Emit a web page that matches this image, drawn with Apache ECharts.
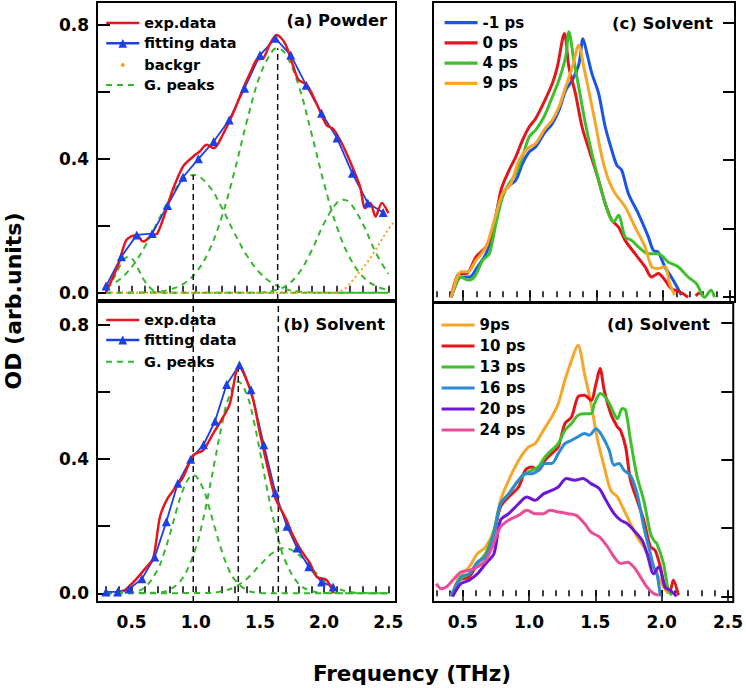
<!DOCTYPE html>
<html><head><meta charset="utf-8">
<script src="https://cdn.jsdelivr.net/npm/echarts@6/dist/echarts.min.js"></script>
<style>html,body{margin:0;padding:0;background:#fff}#c{width:746px;height:688px}</style>
</head><body><div id="c"></div>
<script>
// ---------- tick labels ----------
const xTickLabels = ['0.5', '1.0', '1.5', '2.0', '2.5'];
const yTickLabels = ['0.0', '0.4', '0.8'];
const yTickValues = [0, 0.2, 0.4, 0.6, 0.8];

// ---------- panel (a) Powder ----------
const expA = [[0.30,0.0],[0.40,0.089],[0.46,0.158],[0.54,0.173],[0.59,0.153],[0.66,0.173],[0.70,0.177],[0.77,0.248],[0.82,0.307],[0.90,0.377],[0.98,0.407],[1.03,0.422],[1.085,0.442],[1.14,0.432],[1.21,0.472],[1.29,0.536],[1.37,0.611],[1.435,0.666],[1.475,0.696],[1.525,0.70],[1.58,0.745],[1.63,0.770],[1.695,0.745],[1.76,0.676],[1.80,0.636],[1.865,0.621],[1.94,0.566],[2.02,0.50],[2.07,0.49],[2.15,0.437],[2.23,0.367],[2.28,0.317],[2.32,0.253],[2.36,0.268],[2.40,0.228],[2.45,0.268],[2.50,0.238]];
const fitA = [[0.30,0.02],[0.42,0.108],[0.54,0.173],[0.66,0.177],[0.78,0.261],[0.90,0.345],[1.02,0.40],[1.14,0.452],[1.26,0.516],[1.38,0.611],[1.50,0.71],[1.62,0.76],[1.74,0.71],[1.86,0.62],[1.98,0.536],[2.10,0.462],[2.22,0.357],[2.34,0.268],[2.46,0.24]];
const bgA = [[0.30,0],[2.10,0],[2.15,0.008],[2.20,0.027],[2.25,0.05],[2.30,0.073],[2.35,0.098],[2.40,0.128],[2.45,0.16],[2.50,0.19],[2.55,0.215]];
const gA1 = [[0.30,0.013],[0.35,0.037],[0.40,0.074],[0.44,0.100],[0.474,0.108],[0.51,0.099],[0.55,0.072],[0.60,0.036],[0.65,0.013],[0.70,0.003],[0.80,0],[1.5,0],[2.5,0]];
const gA2 = [[0.30,0.017],[0.40,0.038],[0.50,0.077],[0.60,0.136],[0.70,0.210],[0.80,0.284],[0.90,0.337],[0.98,0.352],[1.10,0.320],[1.20,0.256],[1.30,0.179],[1.40,0.110],[1.50,0.059],[1.60,0.028],[1.70,0.011],[1.80,0.004],[1.90,0.001],[2.00,0],[2.50,0]];
const gA3 = [[0.30,0],[0.60,0.001],[0.70,0.003],[0.80,0.010],[0.90,0.026],[1.00,0.060],[1.10,0.123],[1.20,0.224],[1.30,0.361],[1.40,0.515],[1.50,0.649],[1.60,0.724],[1.638,0.730],[1.70,0.713],[1.80,0.621],[1.90,0.478],[2.00,0.326],[2.10,0.196],[2.20,0.105],[2.30,0.049],[2.40,0.021],[2.50,0.008]];
const gA4 = [[0.30,0],[1.50,0],[1.60,0.006],[1.70,0.020],[1.80,0.057],[1.90,0.124],[2.00,0.208],[2.10,0.269],[2.149,0.278],[2.20,0.269],[2.30,0.207],[2.40,0.122],[2.50,0.056]];
const peakPosA = [0.98, 1.638];
const peakTopA = [0.352, 0.73];

// ---------- panel (b) Solvent ----------
const expB = [[0.435,0.004],[0.54,0.044],[0.617,0.079],[0.668,0.104],[0.721,0.228],[0.773,0.278],[0.837,0.313],[0.902,0.347],[0.98,0.412],[1.058,0.427],[1.136,0.477],[1.214,0.526],[1.266,0.566],[1.318,0.666],[1.344,0.676],[1.396,0.636],[1.448,0.576],[1.50,0.477],[1.565,0.367],[1.617,0.287],[1.656,0.255],[1.708,0.218],[1.75,0.178],[1.812,0.133],[1.89,0.089],[1.942,0.049],[2.02,0.039],[2.071,0.0]];
const fitB = [[0.30,0.004],[0.39,0.004],[0.48,0.013],[0.58,0.043],[0.68,0.108],[0.77,0.213],[0.86,0.328],[0.96,0.40],[1.06,0.443],[1.15,0.513],[1.24,0.623],[1.34,0.681],[1.43,0.607],[1.53,0.443],[1.62,0.30],[1.71,0.20],[1.79,0.135],[1.88,0.079],[1.98,0.034],[2.07,0.019]];
const gB1 = [[0.30,0],[0.50,0.003],[0.60,0.017],[0.70,0.069],[0.75,0.117],[0.80,0.179],[0.85,0.248],[0.90,0.308],[0.95,0.346],[0.98,0.352],[1.05,0.318],[1.10,0.261],[1.15,0.193],[1.20,0.129],[1.25,0.077],[1.30,0.042],[1.40,0.009],[1.50,0.001],[1.60,0],[2.50,0]];
const gB2 = [[0.30,0],[0.70,0.002],[0.80,0.012],[0.90,0.047],[1.00,0.136],[1.05,0.209],[1.10,0.299],[1.15,0.399],[1.20,0.496],[1.25,0.576],[1.331,0.631],[1.40,0.590],[1.45,0.517],[1.50,0.423],[1.55,0.322],[1.60,0.229],[1.65,0.152],[1.70,0.094],[1.80,0.029],[1.90,0.007],[2.00,0.001],[2.50,0]];
const gB3 = [[0.30,0],[1.10,0.001],[1.20,0.006],[1.30,0.018],[1.40,0.044],[1.50,0.084],[1.60,0.121],[1.69,0.135],[1.80,0.115],[1.90,0.075],[2.00,0.038],[2.10,0.015],[2.20,0.004],[2.30,0.001],[2.50,0]];
const peakPosB = [0.98, 1.331, 1.643];
const peakTopB = [0.87, 0.67, 0.87];

// ---------- panel (c) Solvent ----------
const cM1 = [[0.412,0],[0.486,0.059],[0.548,0.059],[0.61,0.089],[0.673,0.127],[0.722,0.186],[0.772,0.283],[0.834,0.322],[0.896,0.342],[0.946,0.39],[0.996,0.424],[1.045,0.439],[1.108,0.478],[1.17,0.507],[1.22,0.546],[1.27,0.604],[1.32,0.634],[1.37,0.682],[1.40,0.755],[1.43,0.711],[1.467,0.653],[1.517,0.595],[1.567,0.497],[1.616,0.429],[1.654,0.385],[1.69,0.371],[1.74,0.303],[1.815,0.244],[1.89,0.176],[1.927,0.137],[1.964,0.132],[2.014,0.089],[2.076,0.05],[2.138,0.006]];
const c0 = [[0.412,0],[0.474,0.069],[0.524,0.069],[0.598,0.118],[0.673,0.147],[0.735,0.205],[0.784,0.312],[0.846,0.371],[0.896,0.41],[0.946,0.458],[0.996,0.497],[1.045,0.522],[1.108,0.57],[1.17,0.624],[1.207,0.672],[1.261,0.77],[1.294,0.672],[1.343,0.595],[1.393,0.497],[1.455,0.419],[1.517,0.342],[1.567,0.273],[1.616,0.225],[1.666,0.205],[1.716,0.166],[1.79,0.127],[1.865,0.089],[1.915,0.059],[1.964,0.069],[2.014,0.05],[2.063,0.025],[2.126,0.016],[2.188,0],null,[2.245,0.004],[2.275,0.012],[2.30,0.004]];
const c4 = [[0.412,0],[0.486,0.059],[0.536,0.05],[0.586,0.059],[0.648,0.108],[0.698,0.127],[0.747,0.215],[0.797,0.293],[0.846,0.332],[0.896,0.361],[0.946,0.41],[0.996,0.468],[1.045,0.488],[1.108,0.527],[1.17,0.585],[1.22,0.634],[1.27,0.702],[1.294,0.775],[1.331,0.692],[1.368,0.614],[1.418,0.507],[1.467,0.419],[1.53,0.322],[1.592,0.244],[1.63,0.22],[1.666,0.239],[1.716,0.176],[1.765,0.166],[1.815,0.147],[1.89,0.127],[1.964,0.127],[2.039,0.103],[2.113,0.089],[2.188,0.059],[2.25,0.04],[2.312,0],[2.36,0.02],[2.386,0]];
const c9 = [[0.412,0],[0.486,0.074],[0.536,0.074],[0.598,0.108],[0.673,0.147],[0.735,0.225],[0.797,0.303],[0.859,0.332],[0.921,0.40],[0.983,0.434],[1.045,0.449],[1.108,0.488],[1.17,0.517],[1.22,0.556],[1.27,0.614],[1.32,0.672],[1.368,0.736],[1.406,0.672],[1.443,0.604],[1.493,0.507],[1.542,0.41],[1.592,0.342],[1.641,0.303],[1.716,0.264],[1.79,0.205],[1.865,0.147],[1.915,0.089],[1.964,0.084],[2.014,0.089],[2.05,0.04],[2.088,0.006]];

// ---------- panel (d) Solvent ----------
const d9 = [[0.412,0],[0.474,0.057],[0.548,0.086],[0.61,0.125],[0.673,0.145],[0.735,0.193],[0.784,0.281],[0.846,0.34],[0.921,0.398],[0.996,0.4375],[1.045,0.447],[1.108,0.486],[1.17,0.525],[1.22,0.564],[1.27,0.633],[1.32,0.691],[1.368,0.735],[1.418,0.652],[1.467,0.564],[1.517,0.457],[1.567,0.379],[1.616,0.31],[1.666,0.291],[1.716,0.252],[1.765,0.213],[1.815,0.174],[1.865,0.145],[1.915,0.105],[1.964,0.066],[2.014,0.027],[2.05,0.008]];
const d10 = [[0.42,0],[0.474,0.047],[0.548,0.057],[0.61,0.096],[0.673,0.125],[0.735,0.184],[0.784,0.262],[0.846,0.291],[0.921,0.32],[0.971,0.369],[1.02,0.379],[1.07,0.369],[1.12,0.398],[1.17,0.418],[1.22,0.4375],[1.27,0.506],[1.32,0.525],[1.368,0.584],[1.418,0.589],[1.467,0.574],[1.505,0.623],[1.535,0.667],[1.567,0.603],[1.616,0.535],[1.666,0.496],[1.69,0.486],[1.728,0.4375],[1.765,0.34],[1.815,0.281],[1.865,0.223],[1.915,0.145],[1.95,0.135],[1.99,0.086],[2.026,0.027],[2.063,0.018],[2.088,0.047],[2.126,0.003]];
const d13 = [[0.412,0],[0.486,0.052],[0.548,0.066],[0.61,0.096],[0.673,0.125],[0.735,0.193],[0.784,0.271],[0.846,0.30],[0.921,0.34],[0.971,0.359],[1.02,0.369],[1.07,0.379],[1.12,0.408],[1.17,0.428],[1.22,0.447],[1.27,0.486],[1.32,0.506],[1.368,0.53],[1.418,0.535],[1.467,0.535],[1.493,0.564],[1.537,0.594],[1.592,0.574],[1.641,0.535],[1.666,0.52],[1.703,0.55],[1.728,0.545],[1.765,0.457],[1.815,0.35],[1.865,0.281],[1.915,0.184],[1.94,0.164],[1.964,0.154],[2.014,0.096],[2.05,0.018],[2.076,0.003]];
const d16 = [[0.412,0],[0.486,0.057],[0.548,0.066],[0.61,0.10],[0.673,0.115],[0.735,0.184],[0.784,0.271],[0.846,0.30],[0.921,0.34],[0.971,0.359],[1.02,0.359],[1.07,0.369],[1.12,0.389],[1.17,0.389],[1.22,0.418],[1.27,0.447],[1.32,0.457],[1.368,0.467],[1.418,0.477],[1.455,0.472],[1.505,0.491],[1.555,0.467],[1.604,0.428],[1.641,0.384],[1.678,0.389],[1.716,0.369],[1.765,0.354],[1.815,0.30],[1.865,0.203],[1.915,0.125],[1.94,0.086],[1.964,0.066],[1.99,0]];
const d20 = [[0.424,0],[0.486,0.037],[0.548,0.047],[0.61,0.066],[0.673,0.096],[0.735,0.125],[0.784,0.223],[0.846,0.242],[0.921,0.271],[0.983,0.291],[1.045,0.281],[1.108,0.30],[1.17,0.31],[1.22,0.32],[1.282,0.345],[1.343,0.34],[1.406,0.345],[1.467,0.33],[1.53,0.315],[1.58,0.281],[1.641,0.242],[1.69,0.223],[1.74,0.213],[1.79,0.193],[1.852,0.164],[1.89,0.125],[1.94,0.066],[1.977,0.086],[2.026,0.027],[2.063,0.018],[2.113,0]];
const d24 = [[0.30,0.037],[0.337,0.022],[0.375,0.027],[0.424,0.047],[0.486,0.071],[0.548,0.076],[0.61,0.086],[0.673,0.105],[0.722,0.145],[0.784,0.203],[0.846,0.223],[0.921,0.237],[0.983,0.252],[1.045,0.242],[1.108,0.242],[1.157,0.252],[1.22,0.247],[1.294,0.242],[1.356,0.237],[1.418,0.213],[1.467,0.188],[1.53,0.174],[1.592,0.145],[1.641,0.115],[1.69,0.096],[1.74,0.10],[1.79,0.086],[1.84,0.057],[1.89,0.027],[1.94,0.008],[1.977,0.003]];

// ---------- styling / layout ----------
const FONT = 'DejaVu Sans';
const COL = {red:'#e5161d', blue:'#1d3fe6', green:'#37b72c', orange:'#f4a423',
  cBlue:'#1a55e6', cRed:'#e3161c', cGreen:'#3dc02b', cOrange:'#f6a62a',
  dSky:'#2a8cd2', dPurple:'#6c17d4', dPink:'#ea4e98', black:'#111'};
const RANGE = {
  xL:[0.23, 2.56], xR:[0.275, 2.54],
  yA:[-0.0215, 0.8685], yB:[-0.026, 0.8687], yC:[-0.014, 0.862], yD:[-0.0167, 0.859]
};

const minorLeft = []; for (let i = 3; i <= 25; i++) minorLeft.push(i / 10);
const minorRight = minorLeft.slice();
const xMajor = xTickLabels.map(Number);
const yLabVals = yTickLabels.map(Number);
const labelStyle = {fontFamily: FONT, fontWeight: 'bold', fontSize: 17, color: '#000'};

function gridBox(left, top, width, height) {
  return {left, top, width, height, show: true, borderColor: '#000', borderWidth: 2, backgroundColor: 'transparent', containLabel: false};
}
function xAx(gi, range, ticks, len, labels) {
  return {
    type: 'value', gridIndex: gi, min: range[0], max: range[1], position: 'bottom',
    axisLine: {show: false}, splitLine: {show: false},
    axisTick: {show: true, inside: true, length: len, customValues: ticks, lineStyle: {color: '#000', width: 1.5}},
    axisLabel: labels ? Object.assign({show: true, customValues: xMajor, margin: 11,
      formatter: v => v.toFixed(1)}, labelStyle) : {show: false}
  };
}
function yAx(gi, range, pos, labels) {
  return {
    type: 'value', gridIndex: gi, min: range[0], max: range[1], position: pos,
    axisLine: {show: false}, splitLine: {show: false},
    axisTick: {show: true, inside: true, length: pos === 'left' ? 13 : 12, customValues: yTickValues, lineStyle: {color: '#000', width: 2}},
    axisLabel: labels ? Object.assign({show: true, customValues: yLabVals, margin: 8,
      formatter: v => v.toFixed(1)}, labelStyle) : {show: false}
  };
}
function ln(name, data, xi, yi, color, width, extra) {
  return Object.assign({
    name, type: 'line', xAxisIndex: xi, yAxisIndex: yi, data, symbol: 'none',
    lineStyle: {color, width}, itemStyle: {color}, smooth: 0.3, silent: true,
    clip: true, animation: false, connectNulls: false
  }, extra || {});
}
function peakSeries(name, data, xi, yi) {
  return ln(name, data, xi, yi, COL.green, 2, {smooth: 0.4, lineStyle: {color: COL.green, width: 2, type: [6, 5]}});
}
function vLines(pos, tops, yMin, xi, yi) {
  return pos.map((p, i) => ln('_v' + xi + '_' + i, [[p, yMin], [p, tops[i]]], xi, yi, COL.black, 1.5,
    {smooth: false, lineStyle: {color: COL.black, width: 1.5, type: [6, 4]}}));
}

const series = [];
[gA1, gA2, gA3, gA4].forEach(g => series.push(peakSeries('G. peaks', g, 0, 0)));
series.push(...vLines(peakPosA, peakTopA, RANGE.yA[0], 0, 0));
series.push(ln('backgr', bgA, 0, 0, COL.orange, 2, {smooth: false, symbol: 'circle', symbolSize: 4, showSymbol: false,
  lineStyle: {color: COL.orange, width: 2, type: [2, 3]}}));
series.push(ln('fitting data', fitA, 0, 0, COL.blue, 1.8, {smooth: false, symbol: 'triangle', symbolSize: 9, showSymbol: true}));
series.push(ln('exp.data', expA, 0, 0, COL.red, 2.5));

[gB1, gB2, gB3].forEach(g => series.push(peakSeries('G. peaks', g, 1, 1)));
series.push(...vLines(peakPosB, peakTopB, RANGE.yB[0], 1, 1));
series.push(ln('fitting data', fitB, 1, 1, COL.blue, 1.8, {smooth: false, symbol: 'triangle', symbolSize: 9, showSymbol: true}));
series.push(ln('exp.data', expB, 1, 1, COL.red, 2.5));

series.push(ln('-1 ps', cM1, 2, 2, COL.cBlue, 3));
series.push(ln('0 ps', c0, 2, 2, COL.cRed, 3));
series.push(ln('4 ps', c4, 2, 2, COL.cGreen, 3));
series.push(ln('9 ps', c9, 2, 2, COL.cOrange, 3));

series.push(ln('9ps', d9, 3, 3, COL.cOrange, 3));
series.push(ln('10 ps', d10, 3, 3, COL.cRed, 3));
series.push(ln('13 ps', d13, 3, 3, COL.cGreen, 3));
series.push(ln('16 ps', d16, 3, 3, COL.dSky, 3));
series.push(ln('20 ps', d20, 3, 3, COL.dPurple, 3));
series.push(ln('24 ps', d24, 3, 3, COL.dPink, 3));

function lg(data, left, top, fs, itemH, gap, lineW) {
  return {data, left, top, orient: 'vertical', padding: 0, itemGap: gap, itemWidth: 33, itemHeight: itemH,
    selectedMode: false, lineStyle: {width: lineW},
    textStyle: {fontFamily: FONT, fontWeight: 'bold', fontSize: fs, color: '#000', lineHeight: 16}};
}
const noSym = n => ({name: n, itemStyle: {opacity: 0}});
const legends = [
  lg([noSym('exp.data'), 'fitting data'], 105, 15, 14.5, 11, 4.3, 2.5),
  lg([{name: 'backgr', lineStyle: {opacity: 0}}], 105, 57, 14.5, 5, 4, 2.5),
  lg([noSym('G. peaks')], 105, 77, 14.5, 11, 4, 2),
  lg([noSym('exp.data'), 'fitting data'], 105, 312, 14.5, 11, 4, 2.5),
  lg([noSym('G. peaks')], 105, 353.7, 14.5, 11, 4, 2),
  lg(['-1 ps', '0 ps', '4 ps', '9 ps'].map(noSym), 443, 14.7, 15, 11, 4.2, 3.2),
  lg(['9ps', '10 ps', '13 ps', '16 ps', '20 ps', '24 ps'].map(noSym), 440, 317, 15, 11, 5, 3.2)
];

function txt(text, x, y, size, align, rot) {
  return {type: 'text', x, y, rotation: rot || 0, silent: true,
    style: {text, fill: '#000', font: 'bold ' + size + 'px "' + FONT + '"',
      textAlign: align, align: align, textVerticalAlign: 'middle', verticalAlign: 'middle'}};
}

const option = {
  animation: false,
  backgroundColor: '#fff',
  grid: [gridBox(97, 2, 299, 298), gridBox(97, 302, 299, 300), gridBox(433, 2, 302, 300), gridBox(433, 303, 302, 299)],
  xAxis: [
    xAx(0, RANGE.xL, minorLeft, 7, false),
    xAx(1, RANGE.xL, minorLeft, 7, true),
    xAx(2, RANGE.xR, minorRight, 6, false),
    xAx(3, RANGE.xR, minorRight, 6, true),
    xAx(2, RANGE.xR, xMajor, 12, false),
    xAx(3, RANGE.xR, xMajor, 12, false)
  ],
  yAxis: [
    yAx(0, RANGE.yA, 'left', true),
    yAx(1, RANGE.yB, 'left', true),
    yAx(2, RANGE.yC, 'right', false),
    yAx(3, RANGE.yD, 'right', false)
  ],
  legend: legends,
  series,
  graphic: [
    txt('(a) Powder', 387, 20.5, 16.3, 'right'),
    txt('(b) Solvent', 385, 324.5, 16.3, 'right'),
    txt('(c) Solvent', 713, 23, 16.5, 'right'),
    txt('(d) Solvent', 710, 324, 16.5, 'right'),
    txt('OD (arb.units)', 13, 301, 22, 'center', Math.PI / 2),
    txt('Frequency (THz)', 412, 673, 21.5, 'center')
  ]
};
const chart = echarts.init(document.getElementById('c'), null, {renderer: 'svg'});
chart.setOption(option);
</script></body></html>
